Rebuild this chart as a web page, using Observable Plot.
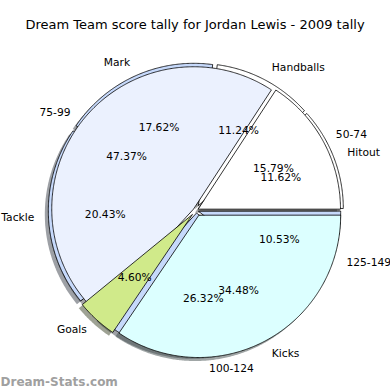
<!DOCTYPE html>
<html>
<head>
<meta charset="utf-8">
<script src="https://cdn.jsdelivr.net/npm/d3@7"></script>
<script src="https://cdn.jsdelivr.net/npm/@observablehq/plot@0.6"></script>
<style>
  html, body { margin: 0; padding: 0; background: #fff; }
  #wrap { width: 390px; height: 390px; overflow: hidden; font-family: "DejaVu Sans", sans-serif; }
  #title { height: 40px; box-sizing: border-box; padding-top: 17px; text-align: center; font-size: 13px; line-height: 16px; color: #000; }
</style>
</head>
<body>
<div id="wrap">
  <div id="title">Dream Team score tally for Jordan Lewis - 2009 tally</div>
  <div id="chart"></div>
</div>
<script>
// Pie 1: score ranges (share of games, %)
const scoreRanges = ["50-74", "75-99", "100-124", "125-149"];
const scoreShares = [15.79, 47.37, 26.32, 10.53];
const scoreColors = ["#ffffff", "#ebf1fe", "#c6d9fb", "#c6d9fb"];

// Pie 2: where the points came from (%)
const statNames = ["Hitout", "Handballs", "Mark", "Tackle", "Goals", "Kicks"];
const statShares = [11.62, 11.24, 17.62, 20.43, 4.60, 34.48];
const statColors = ["#ffffff", "#ffffff", "#c6d9fb", "#c6d9fb", "#d0ea8a", "#dcffff"];
const statOnTop = [false, false, false, false, true, true];

const watermark = "Dream-Stats.com";

// layout (pixels)
const W = 390, H = 350, CX = 195.5, CY = 170, R = 142;
const explodeScore = 0.02, explodeStats = 0.04;

function buildPie(names, shares, colors, explode, key, layerOf) {
  const total = d3.sum(shares);
  const pts = [], labels = [];
  let a = 0;
  names.forEach((name, i) => {
    const a0 = a, a1 = a + shares[i] / total * 360;
    a = a1;
    const mid = (a0 + a1) / 2 * Math.PI / 180;
    const ox = explode * Math.cos(mid), oy = explode * Math.sin(mid);
    const id = key + i;
    const layer = layerOf(i);
    const c = d3.rgb(colors[i]);
    const shadow = d3.rgb(c.r * 0.3, c.g * 0.3, c.b * 0.3).formatHex();
    pts.push({id, layer, x: ox, y: oy, fill: colors[i], shadow});
    const n = Math.max(2, Math.ceil((a1 - a0) / 0.5));
    for (let k = 0; k <= n; k++) {
      const t = (a0 + (a1 - a0) * k / n) * Math.PI / 180;
      pts.push({id, layer, x: ox + Math.cos(t), y: oy + Math.sin(t), fill: colors[i], shadow});
    }
    labels.push({
      name,
      pct: shares[i].toFixed(2) + "%",
      lx: ox + 1.1 * Math.cos(mid), ly: oy + 1.1 * Math.sin(mid),
      px: ox + 0.6 * Math.cos(mid), py: oy + 0.6 * Math.sin(mid),
      right: Math.cos(mid) > 0
    });
  });
  return {pts, labels};
}

const scorePie = buildPie(scoreRanges, scoreShares, scoreColors, explodeScore, "s", () => 1);
const statPie = buildPie(statNames, statShares, statColors, explodeStats, "t", i => statOnTop[i] ? 2 : 0);
const allPts = scorePie.pts.concat(statPie.pts);
const allLabels = scorePie.labels.concat(statPie.labels);

const font = "DejaVu Sans";
const wedge = layer => Plot.line(allPts.filter(d => d.layer === layer), {
  x: "x", y: "y", z: "id", fill: "fill", stroke: "#000", strokeWidth: 0.8,
  strokeLinejoin: "round", curve: "linear-closed"
});

const chart = Plot.plot({
  width: W, height: H,
  marginTop: 0, marginRight: 0, marginBottom: 0, marginLeft: 0,
  style: {fontFamily: font, background: "transparent"},
  x: {domain: [-CX / R, (W - CX) / R], range: [0, W], axis: null},
  y: {domain: [-(H - CY) / R, CY / R], range: [H, 0], axis: null},
  color: {type: "identity"},
  marks: [
    Plot.line(allPts, {
      x: "x", y: "y", z: "id", fill: "shadow", fillOpacity: 0.5, stroke: null,
      dx: -3.5, dy: 3.5, curve: "linear-closed"
    }),
    wedge(0),
    wedge(1),
    wedge(2),
    Plot.text(allLabels.filter(d => d.right), {x: "lx", y: "ly", text: "name", textAnchor: "start", fontSize: 10.7, fill: "#000"}),
    Plot.text(allLabels.filter(d => !d.right), {x: "lx", y: "ly", text: "name", textAnchor: "end", fontSize: 10.7, fill: "#000"}),
    Plot.text(allLabels, {x: "px", y: "py", text: "pct", textAnchor: "middle", fontSize: 10.7, fill: "#000"}),
    Plot.text([watermark], {text: d => d, frameAnchor: "bottom-left", textAnchor: "start", lineAnchor: "bottom", dx: 0, dy: -5, fontSize: 12, fontWeight: "bold", fill: "#a0a0a0"})
  ]
});
document.getElementById("chart").appendChild(chart);
</script>
</body>
</html>
